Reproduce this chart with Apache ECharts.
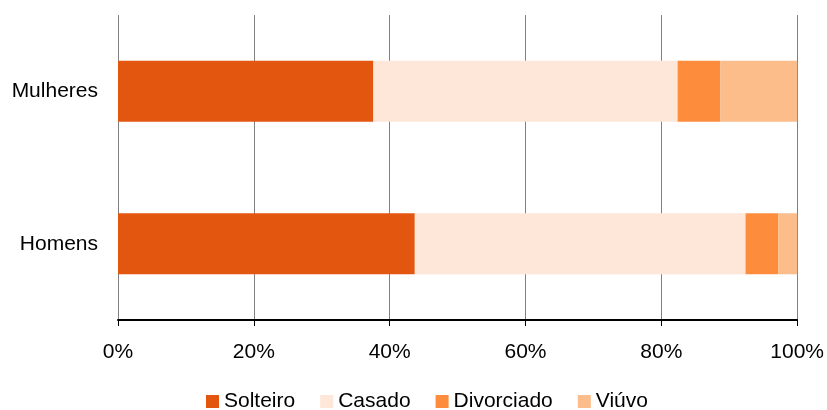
<!DOCTYPE html>
<html>
<head>
<meta charset="utf-8">
<script src="https://cdn.jsdelivr.net/npm/echarts@6/dist/echarts.min.js"></script>
<style>
  html, body { margin: 0; padding: 0; background: #fff; }
  #chart { width: 827px; height: 410px; }
</style>
</head>
<body>
<div id="chart"></div>
<script>
// categorias (de baixo para cima)
const categories = ['Homens', 'Mulheres']
const solteiro = [43.7, 37.6]
const casado = [48.7, 44.8]
const divorciado = [4.8, 6.3]
const viuvo = [2.8, 11.3]
const seriesNames = ['Solteiro', 'Casado', 'Divorciado', 'Viúvo']
const colors = ['#E3560F', '#FEE6D8', '#FD8C3D', '#FCBD8B']

const chart = echarts.init(document.getElementById('chart'))

const dataList = [solteiro, casado, divorciado, viuvo]
const series = seriesNames.map((name, i) => ({
  name: name,
  type: 'bar',
  stack: 'total',
  barWidth: 61,
  itemStyle: { color: colors[i] },
  data: dataList[i]
}))

const option = {
  animation: false,
  textStyle: { fontFamily: 'Liberation Sans, Arial, sans-serif' },
  grid: { left: 118, right: 29, top: 15, bottom: 90 },
  legend: {
    top: 386,
    left: 201,
    itemWidth: 13,
    itemHeight: 13,
    itemGap: 25,
    icon: 'rect',
    textStyle: { fontSize: 21, color: '#000' },
    data: seriesNames
  },
  xAxis: {
    type: 'value',
    min: 0,
    max: 100,
    interval: 20,
    axisLine: { show: true, lineStyle: { color: '#000', width: 2 } },
    axisTick: { show: true, length: 6, lineStyle: { color: '#000' } },
    axisLabel: { formatter: '{value}%', fontSize: 21, color: '#000', margin: 22 },
    splitLine: { show: true, lineStyle: { color: '#808080', width: 1 } }
  },
  yAxis: {
    type: 'category',
    data: categories,
    axisLine: { show: false },
    axisTick: { show: false },
    axisLabel: { fontSize: 21, color: '#000', margin: 20 }
  },
  series: series
}

chart.setOption(option)
</script>
</body>
</html>
